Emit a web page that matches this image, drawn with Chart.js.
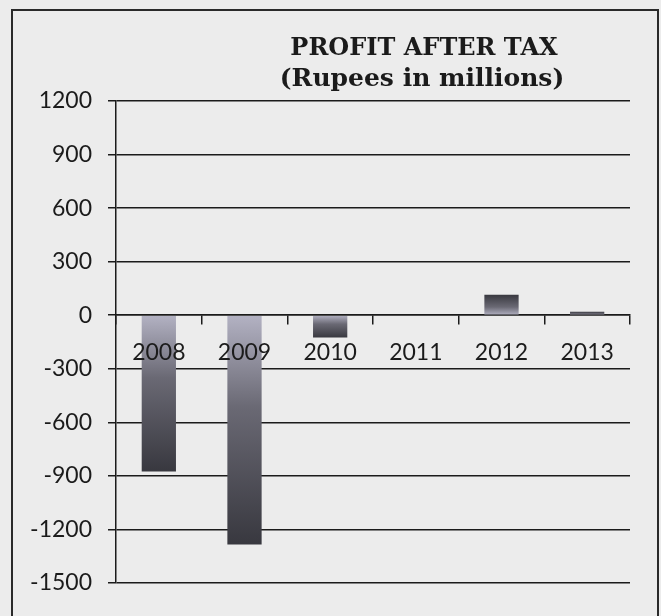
<!DOCTYPE html>
<html>
<head>
<meta charset="utf-8">
<title>Profit After Tax</title>
<script src="https://cdn.jsdelivr.net/npm/chart.js@4/dist/chart.umd.min.js"></script>
<style>
    html, body { margin: 0; padding: 0; background: #ececec; }
    #wrap { width: 661px; height: 616px; }
</style>
</head>
<body>
<div id="wrap"><canvas id="pat" width="661" height="616"></canvas></div>
<script>
// years on the x axis
const years = ["2008", "2009", "2010", "2011", "2012", "2013"];
// profit after tax, rupees in millions
const profitAfterTax = [-875, -1285, -125, -5, 115, 20];
// y axis tick values
const yTicks = [1200, 900, 600, 300, 0, -300, -600, -900, -1200, -1500];
const titleLines = ["PROFIT AFTER TAX", "(Rupees in millions)"];

const ink = "#1b1b1b";
const labelFont = { family: "Lato", size: 23 };

// bars fade from light at the zero line to dark at the bar end
function barFill(context) {
    const chart = context.chart;
    if (!chart.chartArea) return "#555";
    const y = chart.scales.y;
    const v = context.raw;
    const g = chart.ctx.createLinearGradient(0, y.getPixelForValue(0), 0, y.getPixelForValue(v));
    g.addColorStop(0, "#b3b2c3");
    g.addColorStop(0.4, "#6a6974");
    g.addColorStop(1, "#38383f");
    return g;
}

// page background, outer frame and the two-line heading
const framePlugin = {
    id: "frame",
    beforeDraw(chart) {
        const ctx = chart.ctx;
        ctx.save();
        ctx.fillStyle = "#ececec";
        ctx.fillRect(0, 0, chart.width, chart.height);
        ctx.strokeStyle = "#2a2a2a";
        ctx.lineWidth = 2;
        ctx.strokeRect(12, 10, 646, 700);
        ctx.restore();
    },
    afterDraw(chart) {
        const ctx = chart.ctx;
        ctx.save();
        ctx.fillStyle = ink;
        ctx.font = "bold 24px 'DejaVu Serif'";
        ctx.textAlign = "center";
        ctx.textBaseline = "alphabetic";
        ctx.fillText(titleLines[0], 424, 55);
        ctx.font = "bold 25px 'DejaVu Serif'";
        ctx.fillText(titleLines[1], 422, 86);
        ctx.restore();
    }
};

new Chart(document.getElementById("pat"), {
    type: "bar",
    plugins: [framePlugin],
    data: {
        labels: years,
        datasets: [{
            data: profitAfterTax,
            backgroundColor: barFill,
            categoryPercentage: 0.8,
            barPercentage: 0.5
        }]
    },
    options: {
        responsive: false,
        animation: false,
        layout: { padding: { left: 0, right: 31, top: 101, bottom: 33 } },
        plugins: {
            legend: { display: false },
            tooltip: { enabled: false },
            title: { display: false }
        },
        scales: {
            x: {
                position: { y: 0 },
                grid: { drawOnChartArea: false, tickLength: 9, color: ink, lineWidth: 1.5 },
                border: { color: ink, width: 1.5 },
                // year labels sit on top of the bars
                ticks: { z: 1, color: ink, font: labelFont, padding: 15, maxRotation: 0 }
            },
            y: {
                min: -1500,
                max: 1200,
                afterBuildTicks: (scale) => { scale.ticks = yTicks.map(v => ({ value: v })); },
                afterFit: (scale) => { scale.width = 116; },
                grid: { color: ink, lineWidth: 1.5, tickLength: 8 },
                border: { color: ink, width: 1.5 },
                ticks: { color: ink, font: labelFont, padding: 16, callback: (v) => String(v) }
            }
        }
    }
});
</script>
</body>
</html>
